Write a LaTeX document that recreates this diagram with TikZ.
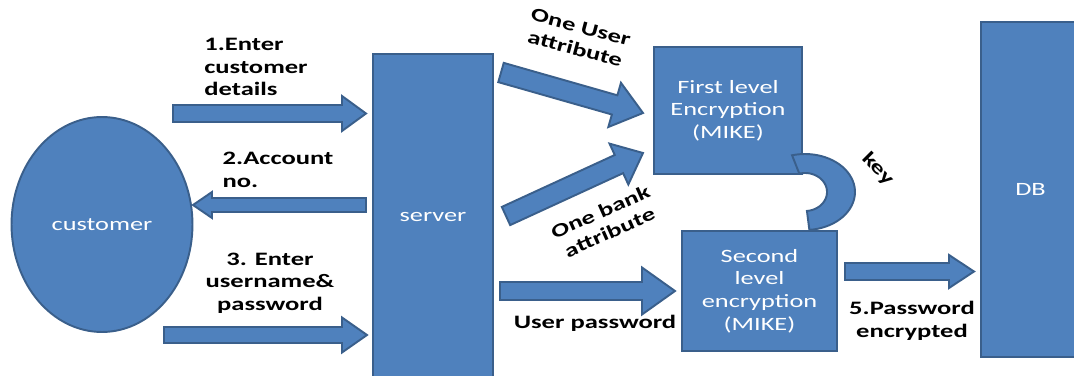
\documentclass[tikz,border=0pt]{standalone}
\usepackage{fontspec}
\setmainfont{Carlito}[FakeStretch=1.4]
\usetikzlibrary{shapes.geometric, calc}

\definecolor{boxblue}{HTML}{4F81BD}
\definecolor{boxedge}{HTML}{3A5F8B}

% block arrow: tail, tip, shaft half width, head half width, head length
\newcommand{\blockarrow}[5]{%
  \coordinate (hb) at ($(#2)!#5!(#1)$);
  \draw[blockarr] ($(#1)!#3!90:(#2)$) -- ($(hb)!#3!90:(#2)$) -- ($(hb)!#4!90:(#2)$)
    -- (#2) -- ($(hb)!#4!-90:(#2)$) -- ($(hb)!#3!-90:(#2)$) -- ($(#1)!#3!-90:(#2)$) -- cycle;
}

\begin{document}
\begin{tikzpicture}[x=0.02cm, y=-0.02cm]
        % Define styles
        \tikzset{
            box/.style={rectangle, draw=boxedge, line width=1.1pt, fill=boxblue, text=white, align=center, inner sep=0pt, font=\fontsize{10.7}{12.9}\selectfont},
            lbl/.style={font=\fontsize{10.8}{12.8}\selectfont\bfseries, inner sep=0pt},
            blockarr/.style={draw=boxedge, line width=1.1pt, fill=boxblue, line join=miter}
        }
        \useasboundingbox (0,0) rectangle (1074,375);
        \clip (0,0) rectangle (1074,375);

        % Nodes
        \node[box, ellipse, minimum width=3.62cm, minimum height=4.3cm] (customer) at (102,224.5) {customer};
        \node[box, minimum width=2.4cm, minimum height=6.52cm] (server) at (433,217) {server};
        \node[box, minimum width=2.96cm, minimum height=2.54cm] (enc_first) at (728,110.5) {First level\\Encryption\\(MIKE)};
        \node[box, minimum width=3.1cm, minimum height=2.4cm] (enc_second) at (759.5,291) {Second\\level\\encryption\\(MIKE)};
        \node[box, minimum width=1.98cm, minimum height=6.7cm] (db) at (1030.5,189.5) {DB};

        % Key
        \draw[blockarr] plot[domain=105:-85, samples=40] ({805+50*cos(\x)},{192-38*sin(\x)})
            -- plot[domain=-85:105, samples=40] ({805+22*cos(\x)},{192-19*sin(\x)}) -- cycle;

        % Arrow ends
        \coordinate (details_tail) at (173,113.5);
        \coordinate (details_tip) at (366,113.5);
        \coordinate (account_tail) at (366,205);
        \coordinate (account_tip) at (193,205);
        \coordinate (login_tail) at (164,335);
        \coordinate (login_tip) at (367,335);
        \coordinate (userattr_tail) at (501,72.5);
        \coordinate (userattr_tip) at (643,113);
        \coordinate (bankattr_tail) at (506,216);
        \coordinate (bankattr_tip) at (643,153);
        \coordinate (pwd_tail) at (500,291);
        \coordinate (pwd_tip) at (675,291);
        \coordinate (store_tail) at (845,271.5);
        \coordinate (store_tip) at (974,271.5);

        % Arrows
        \blockarrow{details_tail}{details_tip}{0.17cm}{0.35cm}{0.48cm}
        \blockarrow{account_tail}{account_tip}{0.14cm}{0.26cm}{0.38cm}
        \blockarrow{login_tail}{login_tip}{0.16cm}{0.35cm}{0.5cm}
        \blockarrow{userattr_tail}{userattr_tip}{0.2cm}{0.46cm}{0.59cm}
        \blockarrow{bankattr_tail}{bankattr_tip}{0.2cm}{0.45cm}{0.53cm}
        \blockarrow{pwd_tail}{pwd_tip}{0.18cm}{0.47cm}{0.66cm}
        \blockarrow{store_tail}{store_tip}{0.17cm}{0.33cm}{0.5cm}

        % Labels
        \node[lbl, align=left] (lbl_details) at (256,67) {1.Enter\\customer\\details};
        \node[lbl, align=left] (lbl_account) at (278,170) {2.Account\\no.};
        \node[lbl, align=center] (lbl_login) at (270,283) {3. Enter\\username\&\\password};
        \node[lbl, align=center, rotate=-15] (lbl_userattr) at (578,38) {One User\\attribute};
        \node[lbl, align=center, rotate=24] (lbl_bankattr) at (605,222) {One bank\\attribute};
        \node[lbl] (lbl_pwd) at (595,323) {User password};
        \node[lbl, rotate=-45] (lbl_key) at (878,169) {key};
        \node[lbl, align=center] (lbl_store) at (912,321) {5.Password\\encrypted};
    \end{tikzpicture}
\end{document}
